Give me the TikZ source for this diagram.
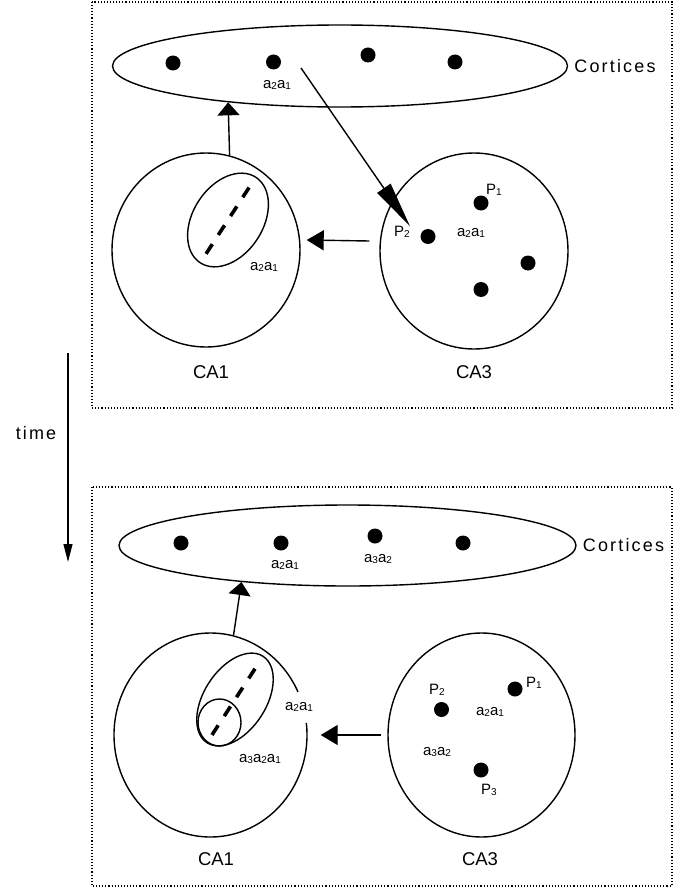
\documentclass[tikz,border=0pt]{standalone}
\usepackage{fontspec}
\setmainfont{Liberation Sans}
\newfontfamily\widefont[LetterSpace=12]{Liberation Sans}
\newfontfamily\lblfamily[LetterSpace=14]{Liberation Sans}
\usetikzlibrary{positioning}
\usetikzlibrary{shapes.geometric}
\usetikzlibrary{arrows.meta}
\usetikzlibrary{calc}
\tikzstyle{region}=[ellipse,draw,line width=1.4pt,inner sep=0pt]
\tikzstyle{cell}=[circle,fill=black,minimum size=15pt,inner sep=0pt]
\tikzstyle{lbl}=[inner sep=0pt,font=\lblfamily\fontsize{15}{17}\selectfont]
\tikzstyle{area}=[inner sep=0pt,font=\fontsize{18.5}{20}\selectfont]
\tikzstyle{areawide}=[inner sep=0pt,font=\widefont\fontsize{18}{20}\selectfont]
\tikzstyle{frame}=[line width=1.1pt,dash pattern=on 1.1pt off 2pt]
\tikzstyle{edge}=[draw,line width=1.4pt]
\tikzstyle{seq}=[draw,line width=3.6pt,dash pattern=on 11.5pt off 11pt]
\tikzset{tipwide/.style={-{Triangle[length=13pt,width=22pt]}},
         tipleft/.style={-{Triangle[length=17pt,width=20pt]}},
         tiplong/.style={-{Triangle[length=46pt,width=16pt]}},
         tiptime/.style={-{Triangle[length=18pt,width=9pt]}}}
\newcommand{\ix}[1]{\raisebox{-1pt}{\fontsize{10}{10}\selectfont #1}}

\begin{document}
\begin{tikzpicture}[x=1pt,y=-1pt]
  \useasboundingbox (0,0) rectangle (674,888);

  \draw[frame] (92,2) rectangle (672,408);
  \draw[frame] (92,487) rectangle (672,886);

  % time axis
  \coordinate (tTop) at (68,353);
  \coordinate (tBot) at (68,562);
  \draw[edge,line width=1.2pt,tiptime] (tTop) -- (tBot);
  \node[areawide] (timetxt) at (36,433) {time};

  % upper panel
  \node[region,minimum width=455pt,minimum height=82pt] (cortA) at (340,66) {};
  \node[areawide,right=6pt of cortA] (cortAtxt) {Cortices};
  \foreach \x/\y/\name in {173/63/dA1, 273.5/62/dA2, 368/55/dA3, 455/62/dA4}
          \node[cell] (\name) at (\x,\y) {};
  \node[lbl] (seqA1) at (277,85) {a\ix2a\ix1};

  \node[region,minimum width=188pt,minimum height=194pt] (ca1a) at (206,250) {};
  \node[region,minimum width=102pt,minimum height=70pt,rotate=57] (inA) at (228,220) {};
  \path[seq] ($(inA.center)!0.78!(inA.west)$) -- ($(inA.center)!0.78!(inA.east)$);
  \node[lbl] (seqA2) at (264,267) {a\ix2a\ix1};
  \node[area] (ca1atxt) at (211,372) {CA1};

  \node[region,minimum width=188pt,minimum height=196pt] (ca3a) at (474,251) {};
  \foreach \x/\y/\name in {481/203/pA1, 428/236.5/pA2, 528/263/pA3, 481/289.5/pA4}
          \node[cell] (\name) at (\x,\y) {};
  \foreach \x/\y/\name/\label in {494/190/pA1txt/{P\ix1}, 402/232/pA2txt/{P\ix2}, 471/233/seqA3/{a\ix2a\ix1}}
          \node[lbl] (\name) at (\x,\y) {\label};
  \node[area] (ca3atxt) at (474,372) {CA3};

  \coordinate (tailA) at (301,68);
  \path[edge,tiplong] (tailA) -- (pA2txt.north east);
  \path[edge,tipleft] ([shift={(-10pt,10pt)}]ca3a.west) -- ([shift={(6pt,10pt)}]ca1a.east);
  \path[edge,tipwide] (ca1a.76) -- (cortA.198);

  % lower panel
  \node[region,minimum width=457pt,minimum height=81pt] (cortB) at (347.5,545.5) {};
  \node[areawide,right=6pt of cortB] (cortBtxt) {Cortices};
  \foreach \x/\y/\name in {181/543/dB1, 281/543/dB2, 375/536/dB3, 463/543/dB4}
          \node[cell] (\name) at (\x,\y) {};
  \node[lbl] (seqB1) at (285,565) {a\ix2a\ix1};
  \node[lbl] (seqB2) at (378,559) {a\ix3a\ix2};

  \node[region,draw=none,minimum width=193pt,minimum height=204pt] (ca1b) at (210.5,735) {};
  \draw[line width=1.4pt] ($(ca1b.center)+(-6.8:96.5 and 102)$) arc[start angle=-6.8, end angle=335, x radius=96.5, y radius=102];
  \node[region,minimum width=103pt,minimum height=62pt,rotate=57] (inB) at (235,699.5) {};
  \node[region,minimum width=43pt,minimum height=47pt] (inC) at (219.5,722.5) {};
  \path[seq] ($(inB.center)!0.81!(inB.west)$) -- ($(inB.center)!0.81!(inB.east)$);
  \node[lbl] (seqB3) at (299,707) {a\ix2a\ix1};
  \node[lbl] (seqB4) at (260,759) {a\ix3a\ix2a\ix1};
  \node[area] (ca1btxt) at (216,859) {CA1};

  \node[region,minimum width=187pt,minimum height=204pt] (ca3b) at (481.5,735) {};
  \foreach \x/\y/\name in {515/689/pB1, 441.5/709.5/pB2, 481/770/pB3}
          \node[cell] (\name) at (\x,\y) {};
  \foreach \x/\y/\name/\label in {534/683/pB1txt/{P\ix1}, 437/690/pB2txt/{P\ix2}, 490/712/seqB5/{a\ix2a\ix1}, 437/752/seqB6/{a\ix3a\ix2}, 489/790/pB3txt/{P\ix3}}
          \node[lbl] (\name) at (\x,\y) {\label};
  \node[area] (ca3btxt) at (480,859) {CA3};

  \path[edge,tipleft] ([xshift=-6pt]ca3b.west) -- ([xshift=13pt]ca1b.east);
  \path[edge,tipwide] (ca1b.77) -- (cortB.199);

\end{tikzpicture}
\end{document}
